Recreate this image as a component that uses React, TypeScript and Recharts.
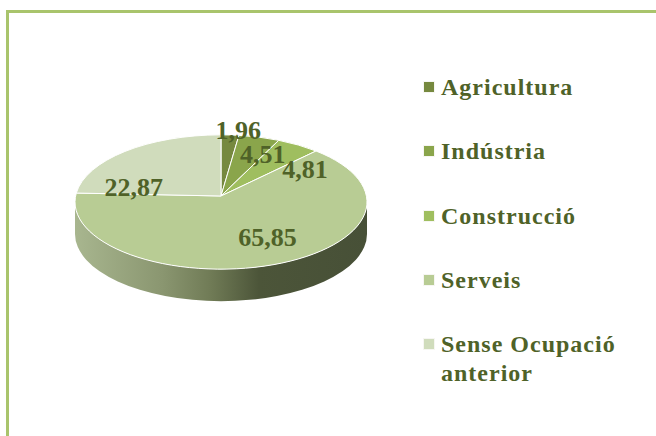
import React from "react";
import { PieChart, Pie, Legend } from "recharts";

const categories = ["Agricultura", "Indústria", "Construcció", "Serveis", "Sense Ocupació anterior"];
const values = [1.96, 4.51, 4.81, 65.85, 22.87];
const valueLabels = ["1,96", "4,51", "4,81", "65,85", "22,87"];
const colors = ["#76893F", "#8AA54B", "#9FBE5F", "#B8CC94", "#D0DCBC"];
const labelShift = [[11, -25], [15, -2], [30, 7], [10, -8], [-20, 21]];

const data = categories.map((name, i) => ({ name, value: values[i], fill: colors[i] }));

const W = 656, H = 436, CX = 221, CY = 202, RX = 146, SQUASH = 0.46, DEPTH = 32, APEX = -6;
const TEXT = "#4F6228";
const SERIF = "'Liberation Serif', serif";
const RAD = Math.PI / 180;

const px = (cx: number, a: number, r: number) => cx + r * Math.cos(a * RAD);
const py = (cy: number, a: number, r: number) => cy - r * SQUASH * Math.sin(a * RAD);

function TopSlice(p: any) {
  const { cx, cy, outerRadius: r, startAngle: s, endAngle: e, fill } = p;
  const large = Math.abs(e - s) > 180 ? 1 : 0;
  const d = `M${cx},${cy + APEX}L${px(cx, s, r)},${py(cy, s, r)}A${r},${r * SQUASH} 0 ${large} 1 ${px(cx, e, r)},${py(cy, e, r)}Z`;
  return <path d={d} fill={fill} stroke="#FFFFFF" strokeWidth={1} strokeLinejoin="round" />;
}

function SideSlice(p: any) {
  const { cx, cy, outerRadius: r, startAngle: s, endAngle: e } = p;
  // Only the part of the slice that faces the viewer (angles below the horizon) has a visible wall.
  const lo = Math.max(Math.min(s, e), -180);
  const hi = Math.min(Math.max(s, e), 0);
  if (hi <= lo) return <g />;
  const d = `M${px(cx, hi, r)},${py(cy, hi, r)}A${r},${r * SQUASH} 0 0 1 ${px(cx, lo, r)},${py(cy, lo, r)}` +
    `L${px(cx, lo, r)},${py(cy, lo, r) + DEPTH}A${r},${r * SQUASH} 0 0 0 ${px(cx, hi, r)},${py(cy, hi, r) + DEPTH}Z`;
  return <path d={d} fill="url(#wall)" />;
}

function SliceLabel(p: any) {
  const { cx, cy, outerRadius: r, midAngle, index } = p;
  const [dx, dy] = labelShift[index];
  return (
    <text x={px(cx, midAngle, r * 0.7) + dx} y={py(cy, midAngle, r * 0.7) + dy} textAnchor="middle" dominantBaseline="central"
      fontFamily={SERIF} fontWeight={700} fontSize={26} fill={TEXT}>
      {valueLabels[index]}
    </text>
  );
}

const rowTops = [73, 137, 202, 266, 330];

function LegendBox(props: any) {
  const items = (props.payload || []).filter((x: any) => x.type !== "none");
  return (
    <div>
      {items.map((it: any, i: number) => (
        <div key={i} style={{ position: "absolute", left: 0, top: rowTops[i], width: 215, display: "flex" }}>
          <span style={{ width: 10, height: 10, marginLeft: 0, marginTop: 9, background: colors[i], boxShadow: "0 0 0 1px #F6F6F2", flex: "none" }} />
          <span style={{ marginLeft: 7, fontFamily: SERIF, fontWeight: 700, fontSize: 24, letterSpacing: 1, lineHeight: "29px", color: TEXT }}>
            {it.value}
          </span>
        </div>
      ))}
    </div>
  );
}

export default function App() {
  return (
    <div style={{ position: "absolute", left: 0, top: 0, width: W, height: H, background: "#fff", overflow: "hidden" }}>
      <div style={{ position: "absolute", left: 6, top: 10, width: W, height: H, borderLeft: "3px solid #A9C46C", borderTop: "3px solid #A9C46C" }} />
      <div style={{ position: "absolute", left: 0, top: 0 }}>
        <PieChart width={W} height={H} margin={{ top: 0, right: 0, bottom: 0, left: 0 }}>
          <defs>
            <linearGradient id="wall" x1="0" y1="0" x2="1" y2="0">
              <stop offset="0" stopColor="#A8B68F" />
              <stop offset="0.3" stopColor="#8A9670" />
              <stop offset="0.47" stopColor="#6F7A55" />
              <stop offset="0.63" stopColor="#4C5539" />
              <stop offset="1" stopColor="#475037" />
            </linearGradient>
          </defs>
          <Pie data={data} dataKey="value" nameKey="name" cx={CX} cy={CY} outerRadius={RX} startAngle={90} endAngle={-270}
            isAnimationActive={false} legendType="none" stroke="none" shape={SideSlice} />
          <Pie data={data} dataKey="value" nameKey="name" cx={CX} cy={CY} outerRadius={RX} startAngle={90} endAngle={-270}
            isAnimationActive={false} legendType="square" shape={TopSlice} label={SliceLabel} labelLine={false} />
          <Legend layout="vertical" itemSorter={null} content={<LegendBox />} wrapperStyle={{ position: "absolute", left: 424, top: 0, width: 232, height: 0 }} />
        </PieChart>
      </div>
    </div>
  );
}
